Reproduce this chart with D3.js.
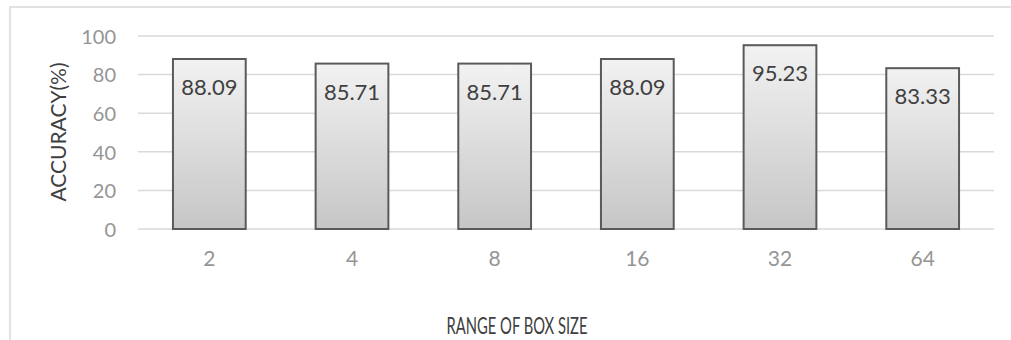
<!DOCTYPE html>
<html>
<head>
<meta charset="utf-8">
<script src="https://cdn.jsdelivr.net/npm/d3@7"></script>
<style>
  html, body { margin: 0; padding: 0; background: #fff; }
  svg { display: block; }
</style>
</head>
<body>
<svg id="chart" width="1011" height="340"></svg>
<script>
const categories = ["2", "4", "8", "16", "32", "64"];
const accuracy = [88.09, 85.71, 85.71, 88.09, 95.23, 83.33];
const yTicks = [0, 20, 40, 60, 80, 100];
const xTitle = "RANGE OF BOX SIZE";
const yTitle = "ACCURACY(%)";

const svg = d3.select("#chart");
const W = 1011, H = 340;
const plot = { left: 138, right: 994, top: 36, bottom: 229 };

// chart border
svg.append("rect")
  .attr("x", 10).attr("y", 7)
  .attr("width", W + 20).attr("height", H + 20)
  .attr("fill", "#fff").attr("stroke", "#d9d9d9").attr("stroke-width", 1.5);

const defs = svg.append("defs");
const grad = defs.append("linearGradient")
  .attr("id", "barGrad").attr("x1", 0).attr("y1", 0).attr("x2", 0).attr("y2", 1);
grad.append("stop").attr("offset", "0%").attr("stop-color", "#f2f2f2");
grad.append("stop").attr("offset", "100%").attr("stop-color", "#c6c6c6");

const x = d3.scaleBand()
  .domain(categories)
  .range([plot.left, plot.right])
  .paddingInner(0.49)
  .paddingOuter(0.245);

const y = d3.scaleLinear()
  .domain([0, 100])
  .range([plot.bottom, plot.top]);

// gridlines
svg.append("g")
  .selectAll("line")
  .data(yTicks)
  .join("line")
  .attr("x1", plot.left).attr("x2", plot.right)
  .attr("y1", d => y(d)).attr("y2", d => y(d))
  .attr("stroke", "#d9d9d9").attr("stroke-width", 1.5);

// y axis labels
const yAxis = d3.axisLeft(y).tickValues(yTicks).tickSize(0).tickPadding(0);
const yg = svg.append("g")
  .attr("transform", `translate(${plot.left - 22},0)`)
  .call(yAxis);
yg.select(".domain").remove();
yg.selectAll("text")
  .attr("font-family", "Lato, 'Open Sans', sans-serif")
  .attr("font-weight", 400)
  .attr("font-size", 20)
  .attr("fill", "#959595")
  .attr("dy", "0.36em");

// x axis labels
const xAxis = d3.axisBottom(x).tickSize(0).tickPadding(0);
const xg = svg.append("g")
  .attr("transform", `translate(0,${plot.bottom + 37})`)
  .call(xAxis);
xg.select(".domain").remove();
xg.selectAll("text")
  .attr("font-family", "Lato, 'Open Sans', sans-serif")
  .attr("font-weight", 400)
  .attr("font-size", 21)
  .attr("fill", "#959595")
  .attr("dy", 0);

// bars
const data = categories.map((c, i) => ({ c, v: accuracy[i] }));
svg.append("g")
  .selectAll("rect")
  .data(data)
  .join("rect")
  .attr("x", d => x(d.c))
  .attr("width", x.bandwidth())
  .attr("y", d => y(d.v))
  .attr("height", d => y(0) - y(d.v))
  .attr("fill", "url(#barGrad)")
  .attr("stroke", "#5a5a5a")
  .attr("stroke-width", 2);

// value labels
svg.append("g")
  .selectAll("text")
  .data(data)
  .join("text")
  .attr("x", d => x(d.c) + x.bandwidth() / 2)
  .attr("y", d => y(d.v) + 36)
  .attr("text-anchor", "middle")
  .attr("font-family", "Lato, 'Open Sans', sans-serif")
  .attr("font-size", 22)
  .attr("fill", "#404040")
  .text(d => d.v.toFixed(2));

// axis titles
svg.append("text")
  .attr("x", 517).attr("y", 334)
  .attr("text-anchor", "middle")
  .attr("font-family", "Lato, 'Open Sans', sans-serif")
  .attr("font-size", 23)
  .attr("fill", "#404040")
  .attr("textLength", 141)
  .attr("lengthAdjust", "spacingAndGlyphs")
  .text(xTitle);

svg.append("text")
  .attr("transform", "translate(66,132) rotate(-90)")
  .attr("text-anchor", "middle")
  .attr("font-family", "Lato, 'Open Sans', sans-serif")
  .attr("font-size", 22)
  .attr("fill", "#404040")
  .attr("textLength", 139)
  .attr("lengthAdjust", "spacingAndGlyphs")
  .text(yTitle);
</script>
</body>
</html>
